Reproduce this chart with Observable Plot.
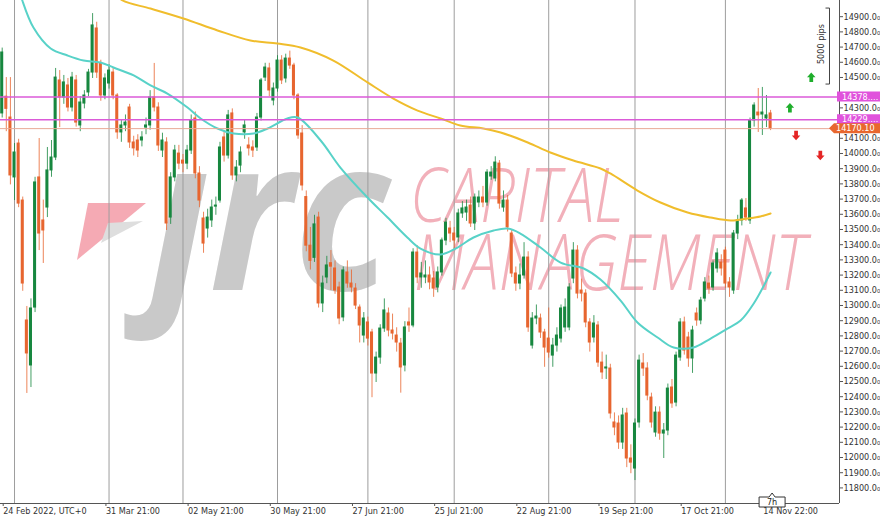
<!DOCTYPE html>
<html>
<head>
<meta charset="utf-8">
<script src="https://cdn.jsdelivr.net/npm/d3@7"></script>
<script src="https://cdn.jsdelivr.net/npm/@observablehq/plot@0.6"></script>
<style>
  html, body { margin: 0; padding: 0; background: #ffffff; overflow: hidden; }
  #chart { width: 880px; height: 518px; overflow: hidden; position: relative; }
  #chart svg { display: block; }
</style>
</head>
<body>
<div id="chart"></div>
<script>
// ---------------- DATA ----------------
// daily bars, index 0 = session labelled "24 Feb 2022"
const open = [14270,14380,14243,13849,14072,13697,12908,12612,12993,13849,13566,13651,13895,13980,14487,14375,14454,14309,14487,14191,14335,14408,14539,14829,14599,
14388,14467,14539,14388,14145,14191,14309,14079,14092,14092,14177,14191,14375,14309,14026,14079,13585,13849,14006,13960,13940,14026,14237,13875,13579,13513,13566,13657,13697,14112,13993,14270,13862,13927,14145,14059,14046,14046,14243,14506,14566,14355,14434,14618,14500,14631,14585,14388,
14138,13720,13400,13320,13585,13020,13191,13285,13250,13125,12928,13224,13151,13118,12993,12809,12895,12829,12559,12664,12855,12954,12842,12809,12756,12612,12895,12875,13355,13191,13191,13204,13184,13125,13224,13434,13513,13480,13454,13612,13618,13664,13546,13684,13717,13684,13855,13842,13940,13651,13697,13480,13217,13151,13204,13322,
12743,12921,12921,12829,12789,12677,12743,12789,12862,12862,13184,13368,13105,13085,12895,12796,12875,12631,12592,12592,12237,12230,12105,12296,12000,11934,12237,12625,12592,12401,12171,12302,12164,12184,12467,12368,12664,12895,12796,12658,12954,12908,13052,13151,13125,13250,13289,13368,13158,13105,13480,13566,13645,13566,14224,14276,14263,14237,14270];
const high = [14700,14506,14506,14072,14100,13720,13000,13050,13850,14105,13700,14046,14092,14566,14552,14520,14500,14540,14520,14380,14420,14560,14927,14870,14620,
14530,14590,14570,14400,14230,14260,14330,14120,14130,14150,14240,14420,14599,14340,14140,14110,13880,14060,14060,14000,14060,14260,14280,13920,13620,13640,13700,13720,14080,14150,14290,14300,13960,14050,14230,14110,14090,14270,14500,14600,14600,14470,14650,14650,14660,14680,14600,14400,
14190,13760,13520,13600,13620,13200,13330,13368,13300,13160,13260,13300,13240,13150,13010,12960,12930,12850,12700,12880,13050,12990,12950,12860,12790,12900,12990,13380,13400,13290,13300,13260,13230,13260,13450,13580,13560,13520,13640,13690,13700,13720,13740,13760,13790,13900,13920,13985,13960,13760,13730,13500,13260,13280,13420,13360,
12960,13010,12950,12850,12990,12790,12860,13010,13050,13150,13420,13400,13180,13110,12920,12940,12900,12700,12680,12620,12300,12280,12330,12330,12090,12260,12680,12690,12630,12430,12340,12340,12230,12490,12520,12700,12920,12930,12830,12870,12990,13060,13190,13200,13300,13380,13340,13390,13190,13500,13600,13710,13710,14240,14340,14434,14441,14388,14290];
const low = [14240,14150,13800,13697,13650,13100,12428,12467,12960,13368,13283,13585,13850,13960,14177,14330,14280,14280,14180,14150,14300,14380,14500,14500,14350,
14360,14430,14360,14100,14080,14150,14040,13990,13980,14050,14130,14160,14280,14020,13980,13500,13540,13820,13900,13880,13900,14000,13840,13650,13350,13450,13520,13600,13680,13950,13970,13830,13820,13880,14100,13990,13980,14020,14220,14480,14380,14320,14410,14460,14470,14560,14360,14100,
13760,13360,13240,13290,12990,12960,13150,13105,13080,12880,12900,13120,13090,12980,12760,12760,12740,12400,12500,12620,12830,12800,12780,12700,12430,12570,12830,12860,13150,13120,13150,13110,13060,13090,13200,13400,13420,13380,13420,13580,13560,13520,13500,13650,13650,13660,13830,13820,13640,13620,13490,13190,13100,13110,13180,12830,
12720,12880,12790,12600,12660,12600,12700,12760,12830,12840,13150,13050,13030,12860,12700,12760,12600,12520,12520,12260,12150,12060,12060,11940,11900,11855,12200,12540,12380,12200,12140,12120,12000,12150,12330,12340,12640,12680,12600,12560,12870,12880,13030,13080,13100,13220,13200,13120,13060,13080,13440,13530,13560,13540,14180,14145,14125,14177,14157];
const close = [14671,14300,13862,14013,13677,13151,12691,12987,13816,13480,13500,13895,13980,14506,14375,14474,14309,14506,14210,14342,14388,14539,14849,14539,14388,
14500,14552,14388,14145,14191,14210,14079,14040,14026,14112,14191,14375,14309,14059,14092,13546,13849,14026,13940,13940,14026,14224,13875,13697,13414,13585,13651,13664,14046,13993,14257,13862,13914,14013,14191,14040,14026,14243,14487,14572,14421,14434,14618,14487,14631,14585,14388,14125,
13796,13400,13300,13540,13020,13151,13270,13262,13105,12921,13237,13151,13125,13006,12875,12921,12789,12559,12664,12855,12974,12842,12822,12763,12599,12862,12875,13355,13191,13217,13204,13158,13118,13224,13434,13552,13480,13434,13612,13645,13651,13546,13717,13717,13684,13881,13881,13947,13677,13697,13520,13217,13151,13204,13322,12862,
12921,12934,12829,12730,12697,12743,12809,12987,12993,13125,13368,13085,13085,12895,12763,12888,12631,12566,12599,12296,12204,12105,12283,12000,11973,12230,12644,12592,12414,12237,12302,12164,12184,12460,12362,12677,12895,12710,12658,12842,12908,13039,13158,13118,13283,13349,13250,13151,13125,13480,13566,13697,13585,14224,14322,14257,14276,14257,14170];

// moving averages (bar index, price)
const cyanIdx = [4.2,4.9,7.6,11.8,15.9,19.8,23.9,27.1,32,36.1,40.2,45.1,48.3,52.4,56.3,61.2,64.6,69.4,71.9,77.5,82.3,88.9,93.8,98.6,101.8,106.7,110.8,114.7,119.6,123,126.1,131,135.9,141.5,145.6,150.5,154.6,159.5,163.4,168.2,172.4,176.5,179.7,182.9,187];
const cyanVal = [15080,15013,14835,14697,14651,14618,14605,14572,14520,14454,14401,14309,14237,14171,14138,14138,14171,14237,14243,14092,13914,13717,13585,13454,13381,13342,13388,13454,13500,13513,13480,13388,13289,13250,13177,13039,12895,12796,12730,12730,12789,12855,12908,13020,13224];
const goldIdx = [27.5,29.3,36.1,44.1,52.4,60.4,67,72.6,80.6,88.9,95.2,101.1,106.7,111.5,117.1,121.3,127.9,133.4,139,145.6,148,154.6,160.2,166.8,172.4,177.3,181.4,184.5,187];
const goldVal = [15060,15013,14960,14895,14816,14750,14730,14704,14618,14474,14368,14289,14237,14191,14171,14145,14079,14013,13960,13908,13875,13763,13684,13618,13585,13566,13579,13592,13612];

// horizontal levels and price tags
const levelValues = [14378, 14229];
const bidValue = 14170.10;
const tagValues = [14378, 14229, 14170.10];
const tagLabels = ["14378.\u2026", "14229.\u2026", "14170.10"];

// signal arrows (bar index, price, direction)
const arrowIdx = [196.9, 191.7, 193.2, 199.1];
const arrowVal = [14508, 14307, 14125, 13993];
const arrowDir = ["up", "up", "down", "down"];

// axes (14200 and 14400 are hidden under the price tags in the picture)
const yTicks = [11800,11900,12000,12100,12200,12300,12400,12500,12600,12700,12800,12900,13000,13100,13200,13300,13400,13500,13600,13700,13800,13900,14000,14100,14300,14500,14600,14700,14800,14900];
const xTickIdx = [0,25,45,65,85,105,125,145,165,185];
const xTickLabels = ["24 Feb 2022, UTC+0","31 Mar 21:00","02 May 21:00","30 May 21:00","27 Jun 21:00","25 Jul 21:00","22 Aug 21:00","19 Sep 21:00","17 Oct 21:00","14 Nov 22:00"];
const gridIdx = [3,26,44,67,89,110,133,154,176];

// scale bar and timer
const pipsTop = 14960, pipsBottom = 14460, pipsLabel = "5000 pips";
const timerLabel = "7h";

// watermark texts
const logoText = "\u0237rc";
const brandLines = ["CAPITAL", "MANAGEMENT"];

// ---------------- CHART ----------------
const FONT = '"DejaVu Sans Condensed", "DejaVu Sans", sans-serif';
const FS = 9;
const bull = "#17873f", bear = "#e7652f";
const bars = open.map((o, i) => ({ i, o, h: high[i], l: low[i], c: close[i], up: close[i] >= o }));
const cyan = cyanIdx.map((x, k) => ({ x, v: cyanVal[k] }));
const gold = goldIdx.map((x, k) => ({ x, v: goldVal[k] }));
const arrows = arrowIdx.map((x, k) => ({ x, v: arrowVal[k], dir: arrowDir[k] }));
const tags = tagValues.map((v, k) => ({ v, label: tagLabels[k], color: k < 2 ? "#e052dc" : "#e8672e", pointed: k === 2 }));

const arrowUp = { draw(ctx, size) { const s = Math.sqrt(size); const w = s / 2, h = s * 0.56, sw = s * 0.22;
  ctx.moveTo(0, -h); ctx.lineTo(w, 0); ctx.lineTo(sw, 0); ctx.lineTo(sw, h); ctx.lineTo(-sw, h); ctx.lineTo(-sw, 0); ctx.lineTo(-w, 0); ctx.closePath(); } };
const arrowDown = { draw(ctx, size) { const s = Math.sqrt(size); const w = s / 2, h = s * 0.56, sw = s * 0.22;
  ctx.moveTo(0, h); ctx.lineTo(w, 0); ctx.lineTo(sw, 0); ctx.lineTo(sw, -h); ctx.lineTo(-sw, -h); ctx.lineTo(-sw, 0); ctx.lineTo(-w, 0); ctx.closePath(); } };

// watermark layout: [x, baseline, letter size, width in the picture]
const logoBox = [150, 290, 212, 240];
const brandBoxes = [[410, 222, 73, 214], [414, 290, 80, 392]];

function watermark(index, scales, values, dims) {
  const g = d3.create("svg:g").attr("pointer-events", "none").attr("text-anchor", "start");
  g.append("path").attr("d", "M88,203 L146,203 L77,260 Z").attr("fill", "#f5aab4");
  g.append("path").attr("d", "M108,223 L143,221 L101,243 Z").attr("fill", "#dedede");
  g.append("text").attr("class", "wm-logo").text(logoText)
    .attr("x", 0).attr("y", 0).attr("transform", `translate(${logoBox[0]},${logoBox[1]})`)
    .attr("font-family", '"Open Sans", "DejaVu Sans", sans-serif').attr("font-weight", 700).attr("font-style", "italic")
    .attr("font-size", logoBox[2]).attr("fill", "#c9c9c9");
  const t = g.append("text").attr("class", "wm-brand")
    .attr("font-family", '"Open Sans", "Lato", sans-serif').attr("font-weight", 300).attr("font-style", "italic")
    .attr("fill", "#f2b0ba");
  brandLines.forEach((s, k) => t.append("tspan").text(s)
    .attr("x", brandBoxes[k][0]).attr("y", brandBoxes[k][1]).attr("font-size", brandBoxes[k][2]));
  return g.node();
}

function frameLines(index, scales, values, dims) {
  const g = d3.create("svg:g").attr("stroke", "#555").attr("stroke-width", 1).attr("shape-rendering", "crispEdges");
  const xr = dims.width - dims.marginRight, yb = dims.height - dims.marginBottom;
  g.append("line").attr("x1", xr + 0.5).attr("x2", xr + 0.5).attr("y1", 0).attr("y2", yb);
  g.append("line").attr("x1", 0).attr("x2", xr).attr("y1", yb + 0.5).attr("y2", yb + 0.5);
  return g.node();
}

function tagMark(index, scales, values, dims) {
  const { y } = scales;
  const g = d3.create("svg:g").attr("font-family", FONT).attr("font-size", FS).attr("text-anchor", "start");
  const xr = dims.width - dims.marginRight, xe = dims.width + 6;
  for (const t of tags) {
    const yy = y(t.v), h = 10;
    const d = t.pointed
      ? `M${xr - 10},${yy} L${xr - 5},${yy - h / 2} L${xe},${yy - h / 2} L${xe},${yy + h / 2} L${xr - 5},${yy + h / 2} Z`
      : `M${xr - 2},${yy - h / 2} L${xe},${yy - h / 2} L${xe},${yy + h / 2} L${xr - 2},${yy + h / 2} Z`;
    g.append("path").attr("d", d).attr("fill", t.color);
    g.append("text").attr("x", t.pointed ? xr - 3 : xr + 3).attr("y", yy).attr("dy", "0.36em").attr("fill", "#fff").text(t.label);
  }
  return g.node();
}

function pipsBar(index, scales, values, dims) {
  const { y } = scales;
  const g = d3.create("svg:g");
  const xr = dims.width - dims.marginRight - 9.5;
  const y1 = y(pipsTop), y2 = y(pipsBottom);
  g.append("path").attr("d", `M${xr - 4},${y1} H${xr} V${y2} H${xr - 4}`).attr("fill", "none").attr("stroke", "#444").attr("stroke-width", 1);
  g.append("text").text(pipsLabel).attr("transform", `translate(${xr - 9},${(y1 + y2) / 2 - 2}) rotate(-90)`)
    .attr("text-anchor", "middle").attr("dy", "0.35em").attr("font-family", FONT).attr("font-size", FS).attr("fill", "#333");
  return g.node();
}

function timerBox(index, scales, values, dims) {
  const { x } = scales;
  const g = d3.create("svg:g");
  const cx = x(bars.length - 1) + 2, top = 497, bot = 507, w = 26;
  g.append("path").attr("d", `M${cx - w / 2},${top} H${cx - 3} L${cx},${top - 4} L${cx + 3},${top} H${cx + w / 2} V${bot} H${cx - w / 2} Z`)
    .attr("fill", "#fff").attr("stroke", "#333").attr("stroke-width", 1);
  g.append("text").text(timerLabel).attr("x", cx).attr("y", (top + bot) / 2).attr("dy", "0.36em").attr("text-anchor", "middle")
    .attr("font-family", FONT).attr("font-size", FS).attr("fill", "#222");
  return g.node();
}

const chart = Plot.plot({
  width: 880,
  height: 518,
  marginLeft: 0,
  marginRight: 41,
  marginTop: 0,
  marginBottom: 15,
  style: { background: "#ffffff", overflow: "hidden", fontFamily: FONT },
  x: { type: "linear", domain: [-0.414, 203.77], axis: null },
  y: { type: "linear", domain: [11704, 15013], axis: null },
  marks: [
    watermark,
    Plot.ruleX(gridIdx, { stroke: "#9d9d9d", strokeWidth: 1 }),
    Plot.ruleX(bars, { x: "i", y1: "l", y2: "h", stroke: d => d.up ? bull : bear, strokeWidth: 1, strokeOpacity: 0.8 }),
    Plot.rect(bars, { x1: d => d.i - 0.37, x2: d => d.i + 0.37, y1: "o", y2: "c", fill: d => d.up ? bull : bear, insetTop: -0.5, insetBottom: -0.5 }),
    Plot.line(gold, { x: "x", y: "v", stroke: "#f0bd2c", strokeWidth: 2, curve: "catmull-rom", clip: true }),
    Plot.line(cyan, { x: "x", y: "v", stroke: "#58d2c8", strokeWidth: 2, curve: "catmull-rom", clip: true }),
    Plot.ruleY(levelValues, { stroke: "#db5ad8", strokeWidth: 1.5 }),
    Plot.ruleY([bidValue], { stroke: "#e9a995", strokeWidth: 1 }),
    Plot.dot(arrows.filter(d => d.dir === "up"), { x: "x", y: "v", r: 4.8, symbol: arrowUp, fill: "#1fae2c", stroke: "none" }),
    Plot.dot(arrows.filter(d => d.dir === "down"), { x: "x", y: "v", r: 4.8, symbol: arrowDown, fill: "#e42525", stroke: "none" }),
    frameLines,
    Plot.axisY(yTicks, { anchor: "right", tickSize: 3, tickPadding: 1, fontSize: FS, fill: "#333", stroke: "#555",
      tickFormat: d => d.toFixed(1) + "\u2080", dy: -1 }),
    Plot.axisX(xTickIdx, { anchor: "bottom", tickSize: 3, tickPadding: 1, fontSize: FS, fill: "#333", stroke: "#555",
      textAnchor: "start", dx: 1, tickFormat: d => xTickLabels[xTickIdx.indexOf(d)] }),
    tagMark,
    pipsBar,
    timerBox
  ]
});
document.getElementById("chart").appendChild(chart);

// fit the watermark words to their width in the picture:
// the font size sets the width, a vertical stretch keeps the letter height
(function fitWatermark() {
  const logo = chart.querySelector("text.wm-logo");
  if (logo) {
    const w = logo.getComputedTextLength();
    if (w > 0) {
      const fs = logoBox[2] * logoBox[3] / w;
      logo.setAttribute("font-size", fs.toFixed(2));
      logo.setAttribute("transform", `translate(${logoBox[0]},${logoBox[1]}) scale(1,${(logoBox[2] / fs).toFixed(4)})`);
    }
  }
  const brand = chart.querySelector("text.wm-brand");
  if (brand) {
    const spans = [...brand.querySelectorAll("tspan")];
    const sizes = spans.map((sp, k) => {
      const w = sp.getComputedTextLength();
      return w > 0 ? brandBoxes[k][2] * brandBoxes[k][3] / w : brandBoxes[k][2];
    });
    const sy = d3.mean(sizes.map((fs, k) => brandBoxes[k][2] / fs));
    spans.forEach((sp, k) => {
      sp.setAttribute("font-size", sizes[k].toFixed(2));
      sp.setAttribute("y", (brandBoxes[k][1] / sy).toFixed(2));
    });
    brand.setAttribute("transform", `scale(1,${sy.toFixed(4)})`);
  }
})();
</script>
</body>
</html>
